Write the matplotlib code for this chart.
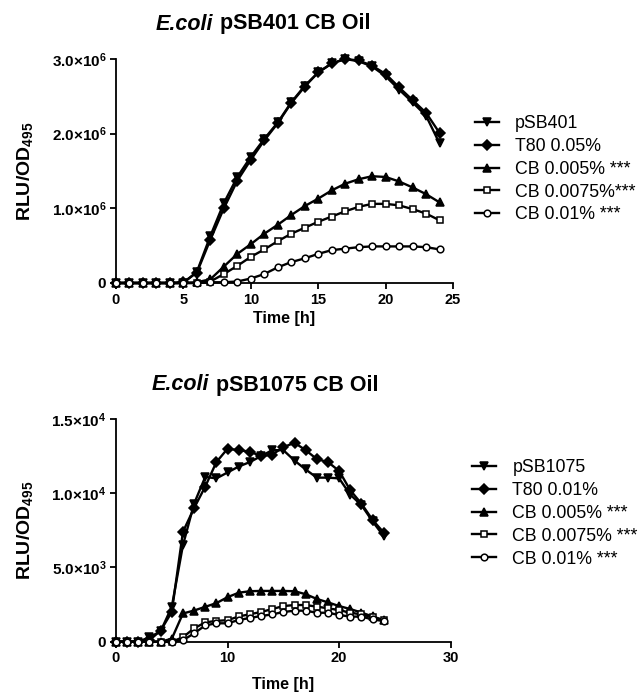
import matplotlib
matplotlib.use("Agg")
import matplotlib.pyplot as plt
from matplotlib.offsetbox import TextArea, HPacker, AnnotationBbox
import numpy as np

plt.rcParams['font.family'] = ['Liberation Sans', 'DejaVu Sans']
plt.rcParams['mathtext.fontset'] = 'custom'
plt.rcParams['mathtext.rm'] = 'Liberation Sans'
plt.rcParams['mathtext.bf'] = 'Liberation Sans:bold'
plt.rcParams['mathtext.it'] = 'Liberation Sans:italic'

# ---------------- data ----------------
time_h = list(range(25))

# top panel (RLU/OD495, x1e6)
top_title = ('E.coli', 'pSB401 CB Oil')
top_labels = ['pSB401', 'T80 0.05%', 'CB 0.005% ***', 'CB 0.0075%***', 'CB 0.01% ***']
top_psb401 = [0, 0, 0, 0, 0, 0, 0.15, 0.63, 1.07, 1.42, 1.69, 1.93, 2.15, 2.42, 2.64, 2.82, 2.94, 3.00, 2.97, 2.90, 2.77, 2.59, 2.42, 2.24, 1.87]
top_t80 = [0, 0, 0, 0, 0, 0.01, 0.14, 0.58, 1.00, 1.37, 1.65, 1.91, 2.14, 2.41, 2.63, 2.82, 2.94, 3.00, 2.98, 2.91, 2.80, 2.62, 2.45, 2.28, 2.01]
top_cb005 = [0, 0, 0, 0, 0, 0, 0.01, 0.05, 0.22, 0.39, 0.52, 0.66, 0.78, 0.91, 1.03, 1.13, 1.24, 1.33, 1.39, 1.43, 1.42, 1.36, 1.28, 1.19, 1.08]
top_cb0075 = [0, 0, 0, 0, 0, 0, 0, 0.02, 0.12, 0.23, 0.35, 0.45, 0.56, 0.66, 0.74, 0.82, 0.89, 0.96, 1.02, 1.06, 1.06, 1.04, 0.99, 0.93, 0.84]
top_cb01 = [0, 0, 0, 0, 0, 0, 0, 0.01, 0.01, 0.02, 0.06, 0.12, 0.21, 0.28, 0.33, 0.39, 0.44, 0.46, 0.48, 0.49, 0.49, 0.49, 0.49, 0.48, 0.45]
top_scale = 1e6
top_yticks = [0, 1e6, 2e6, 3e6]
top_yticklabels = ['0', r'$\mathbf{1.0{\times}10^{6}}$', r'$\mathbf{2.0{\times}10^{6}}$', r'$\mathbf{3.0{\times}10^{6}}$']
top_xticks = [0, 5, 10, 15, 20, 25]

# bottom panel (RLU/OD495, x1e3)
bot_title = ('E.coli', 'pSB1075 CB Oil')
bot_labels = ['pSB1075', 'T80 0.01%', 'CB 0.005% ***', 'CB 0.0075% ***', 'CB 0.01% ***']
bot_psb1075 = [0, 0, 0, 0.3, 0.7, 2.35, 6.5, 9.3, 11.1, 11.0, 11.4, 11.8, 12.1, 12.5, 12.9, 12.9, 12.2, 11.6, 11.05, 11.05, 11.0, 9.9, 9.2, 8.1, 7.1]
bot_t80 = [0, 0, 0, 0.1, 0.75, 2.0, 7.4, 9.0, 10.45, 12.1, 13.0, 12.9, 12.8, 12.5, 12.6, 13.1, 13.4, 12.9, 12.3, 12.1, 11.5, 10.2, 9.3, 8.2, 7.35]
bot_cb005 = [0, 0, 0, 0, 0, 0.2, 1.9, 2.1, 2.35, 2.6, 3.0, 3.3, 3.4, 3.42, 3.42, 3.42, 3.4, 3.2, 2.88, 2.65, 2.4, 2.2, 1.96, 1.7, 1.45]
bot_cb0075 = [0, 0, 0, 0, 0, 0, 0.3, 0.9, 1.3, 1.4, 1.45, 1.7, 1.85, 2.0, 2.2, 2.4, 2.47, 2.47, 2.36, 2.25, 2.13, 1.95, 1.84, 1.64, 1.46]
bot_cb01 = [0, 0, 0, 0, 0, 0, 0.1, 0.56, 1.1, 1.24, 1.24, 1.46, 1.6, 1.73, 1.84, 2.0, 2.09, 2.09, 1.95, 1.95, 1.8, 1.69, 1.69, 1.5, 1.39]
bot_scale = 1e3
bot_yticks = [0, 5e3, 1e4, 1.5e4]
bot_yticklabels = ['0', r'$\mathbf{5.0{\times}10^{3}}$', r'$\mathbf{1.0{\times}10^{4}}$', r'$\mathbf{1.5{\times}10^{4}}$']
bot_xticks = [0, 10, 20, 30]

xlabel = 'Time [h]'
ylabel = r'$\mathbf{RLU/OD_{495}}$'

# ---------------- styles ----------------
styles = [
    dict(marker='v', mfc='black', ms=5.5),
    dict(marker='D', mfc='black', ms=4.6),
    dict(marker='^', mfc='black', ms=5.5),
    dict(marker='s', mfc='white', ms=4.6),
    dict(marker='o', mfc='white', ms=4.8),
]

fig = plt.figure(figsize=(6.42, 6.95), dpi=100)
ax1 = fig.add_axes([116/642, 1-283/695, (453-116)/642, (283-59)/695])
ax2 = fig.add_axes([116/642, 1-641.7/695, (450.7-116)/642, (641.7-419)/695])


def draw(ax, series, scale, labels, title, title_xy, yticks, yticklabels, xticks,
         xmax, ymax, leg_anchor, xlabelpad):
    for vals, lab, st in zip(series, labels, styles):
        ax.plot(time_h, np.array(vals) * scale, color='black', lw=1.7,
                marker=st['marker'], mfc=st['mfc'], mec='black', mew=1.1,
                ms=st['ms'], label=lab, clip_on=False, zorder=3)
    ax.set_xlim(0, xmax)
    ax.set_ylim(0, ymax)
    ax.set_xticks(xticks)
    ax.set_xticklabels([str(x) for x in xticks], fontweight='bold', fontsize=10.5)
    ax.set_yticks(yticks)
    ax.set_yticklabels(yticklabels, fontweight='bold', fontsize=11)
    for s in ['top', 'right']:
        ax.spines[s].set_visible(False)
    for s in ['left', 'bottom']:
        ax.spines[s].set_linewidth(1.3)
    ax.tick_params(direction='out', length=4, width=1.3, pad=3)
    ax.set_xlabel(xlabel, fontweight='bold', fontsize=11.5, labelpad=xlabelpad)
    ax.set_ylabel(ylabel, fontsize=14, labelpad=12)
    # title: italic genus + bold rest
    t1 = TextArea(title[0], textprops=dict(fontweight='bold', fontstyle='italic', fontsize=15.5))
    t2 = TextArea(title[1], textprops=dict(fontweight='bold', fontsize=15.5))
    box = HPacker(children=[t1, t2], align='baseline', pad=0, sep=5)
    ab = AnnotationBbox(box, title_xy, xycoords='figure fraction', frameon=False,
                        box_alignment=(0.5, 0.5), annotation_clip=False)
    fig.add_artist(ab)
    ax.legend(loc='upper left', bbox_to_anchor=leg_anchor, frameon=False,
              fontsize=12.8, handlelength=1.35, handletextpad=0.9,
              labelspacing=0.33, borderaxespad=0, borderpad=0)


draw(ax1, [top_psb401, top_t80, top_cb005, top_cb0075, top_cb01], top_scale,
     top_labels, top_title, (263/642, 1-24/695), top_yticks, top_yticklabels,
     top_xticks, 25, 3e6, (1.065, 0.75), 3)
draw(ax2, [bot_psb1075, bot_t80, bot_cb005, bot_cb0075, bot_cb01], bot_scale,
     bot_labels, bot_title, (265/642, 1-385/695), bot_yticks, bot_yticklabels,
     bot_xticks, 30, 1.5e4, (1.065, 0.82), 8)

fig.savefig('out.png', dpi=100)
